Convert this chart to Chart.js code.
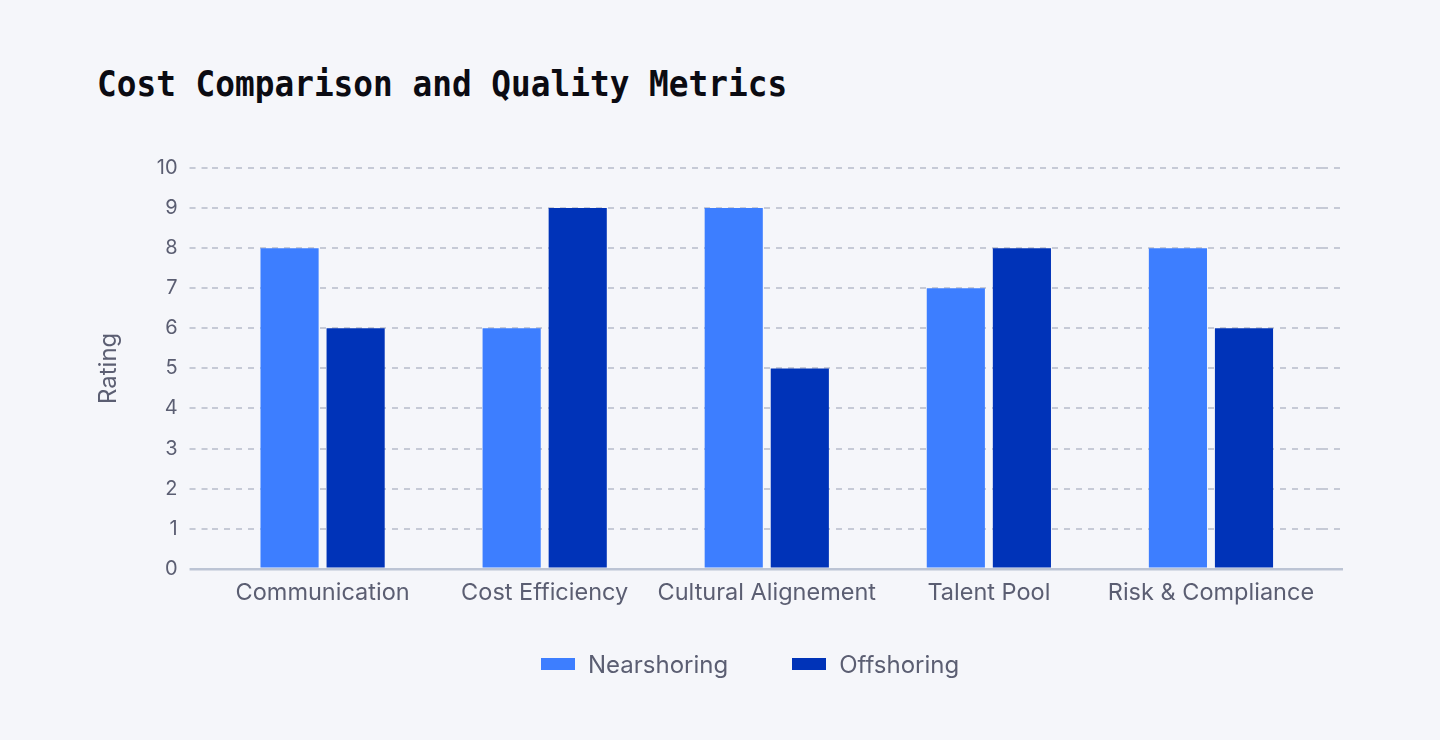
<!DOCTYPE html>
<html>
<head>
<meta charset="utf-8">
<title>Cost Comparison and Quality Metrics</title>
<script src="https://cdn.jsdelivr.net/npm/chart.js@4.4.1/dist/chart.umd.min.js"></script>
<style>
  html, body { margin: 0; padding: 0; background: #f5f6fa; }
  #wrap { position: relative; width: 1440px; height: 740px; overflow: hidden; }
  #title {
    position: absolute; left: 97px; top: 66px; margin: 0;
    font-family: "DejaVu Sans Mono", monospace; font-weight: bold;
    font-size: 32.75px; line-height: 40px; color: #0b0b12;
    transform: scaleY(1.08); transform-origin: left bottom;
  }
  #legend {
    position: absolute; left: 541px; top: 650px; height: 28px;
    display: flex; align-items: center; gap: 64px;
    font-family: Inter, sans-serif; font-size: 24px; color: #5b5e72;
  }
  #legend .item { display: flex; align-items: center; gap: 13px; }
  #legend .box { width: 34px; height: 12px; }
  canvas { position: absolute; left: 0; top: 0; }
</style>
</head>
<body>
<div id="wrap">
  <h1 id="title">Cost Comparison and Quality Metrics</h1>
  <canvas id="chart" width="1440" height="740"></canvas>
  <div id="legend"></div>
</div>
<script>
// Datos del gráfico
const categories = ['Communication', 'Cost Efficiency', 'Cultural Alignement', 'Talent Pool', 'Risk & Compliance'];
const nearshoring = [8, 6, 9, 7, 8];
const offshoring = [6, 9, 5, 8, 6];
const seriesNames = ['Nearshoring', 'Offshoring'];
const seriesColors = ['#3d7eff', '#0033b8'];

const textColor = '#5b5e72';
const gridColor = '#c6cad6';
const baseColor = '#bcc4d4';

Chart.defaults.font.family = 'Inter, sans-serif';
Chart.defaults.color = textColor;

// Estilo de las líneas de la cuadrícula: la de 0 es sólida
const lineColor = ctx => (ctx.tick && ctx.tick.value === 0 ? baseColor : gridColor);
const lineWidth = ctx => (ctx.tick && ctx.tick.value === 0 ? 2.5 : 2);
const lineDash = ctx => (ctx.tick && ctx.tick.value === 0 ? [] : [6, 6]);

const datasets = [nearshoring, offshoring].map((values, i) => ({
  label: seriesNames[i],
  data: values,
  backgroundColor: seriesColors[i],
  borderWidth: 0,
  categoryPercentage: 0.595,
  barPercentage: 0.88
}));

const chart = new Chart(document.getElementById('chart').getContext('2d'), {
  type: 'bar',
  data: { labels: categories, datasets },
  options: {
    responsive: false,
    animation: false,
    layout: { padding: { top: 168, left: 94, right: 97, bottom: 123 } },
    plugins: {
      legend: { display: false },
      tooltip: { enabled: false }
    },
    scales: {
      x: {
        grid: { display: false, drawTicks: false },
        border: { display: false },
        ticks: {
          padding: 10,
          autoSkip: false,
          maxRotation: 0,
          minRotation: 0,
          color: textColor,
          font: { size: 23.5 }
        }
      },
      y: {
        min: 0,
        max: 10,
        ticks: { stepSize: 1, padding: 12, color: textColor, font: { size: 20 } },
        grid: {
          color: lineColor,
          lineWidth: lineWidth,
          tickLength: 22,
          tickColor: lineColor,
          tickBorderDash: lineDash
        },
        border: { display: false, dash: lineDash },
        title: {
          display: true,
          text: 'Rating',
          color: textColor,
          font: { size: 24 },
          padding: { top: 0, bottom: 22 }
        }
      },
      y2: {
        position: 'right',
        min: 0,
        max: 10,
        ticks: { display: false, stepSize: 1 },
        grid: {
          drawOnChartArea: false,
          tickLength: 21,
          color: lineColor,
          lineWidth: lineWidth,
          tickColor: lineColor,
          tickBorderDash: lineDash
        },
        border: { display: false }
      }
    }
  }
});

// Leyenda en HTML a partir de los datasets
const legendEl = document.getElementById('legend');
chart.data.datasets.forEach(ds => {
  const item = document.createElement('div');
  item.className = 'item';
  const box = document.createElement('span');
  box.className = 'box';
  box.style.background = ds.backgroundColor;
  const label = document.createElement('span');
  label.textContent = ds.label;
  item.appendChild(box);
  item.appendChild(label);
  legendEl.appendChild(item);
});
</script>
</body>
</html>
